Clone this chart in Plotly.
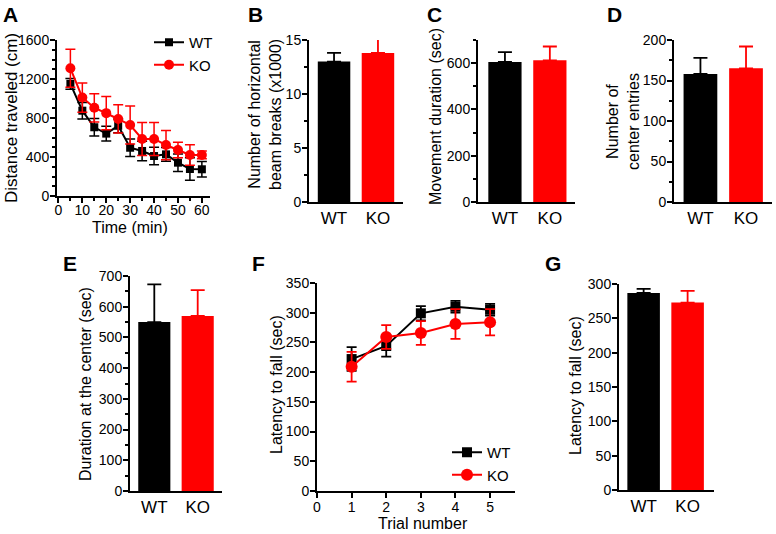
import plotly.graph_objects as go

W, H = 776, 534

# ---------------- data ----------------
time_min = [5, 10, 15, 20, 25, 30, 35, 40, 45, 50, 55, 60]
a_wt = [1150, 875, 705, 640, 720, 495, 462, 410, 427, 342, 277, 274]
a_wt_err = [55, 85, 90, 75, 70, 90, 100, 90, 70, 90, 115, 80]
a_ko = [1310, 1010, 905, 850, 790, 728, 585, 585, 523, 472, 421, 421]
a_ko_err = [195, 150, 145, 170, 145, 195, 170, 170, 150, 80, 105, 40]

groups = ["WT", "KO"]
b_vals = [13.0, 13.8]
b_err = [0.8, 1.3]
c_vals = [605, 612]
c_err = [43, 60]
d_vals = [158, 165]
d_err = [20, 27]
e_vals = [550, 570]
e_err = [123, 84]

trial = [1, 2, 3, 4, 5]
f_wt = [222, 244, 299, 310, 305]
f_wt_err = [20, 18, 12, 10, 10]
f_ko = [209, 259, 266, 281, 284]
f_ko_err = [25, 20, 20, 25, 22]

g_vals = [287, 273]
g_err = [6, 17]

BLACK = "#000000"
RED = "#ff0000"
FONT = "Liberation Sans, Arial, sans-serif"


def xd(px):
    return px / W


def yd(py):
    return 1 - py / H


fig = go.Figure()

# ---------- Panel A ----------
fig.add_trace(go.Scatter(
    x=time_min, y=a_wt, mode="lines+markers", name="WT",
    line=dict(color=BLACK, width=2),
    marker=dict(symbol="square", size=8, color=BLACK),
    error_y=dict(type="data", array=a_wt_err, color=BLACK, thickness=1.5, width=5),
    xaxis="x", yaxis="y", legend="legend"))
fig.add_trace(go.Scatter(
    x=time_min, y=a_ko, mode="lines+markers", name="KO",
    line=dict(color=RED, width=2),
    marker=dict(symbol="circle", size=10, color=RED),
    error_y=dict(type="data", array=a_ko_err, color=RED, thickness=1.5, width=5),
    xaxis="x", yaxis="y", legend="legend"))


def bars(vals, errs, xa, ya):
    for i, g in enumerate(groups):
        col = BLACK if i == 0 else RED
        fig.add_trace(go.Bar(
            x=[g], y=[vals[i]], marker=dict(color=col, line=dict(width=0)),
            width=0.74, showlegend=False,
            error_y=dict(type="data", array=[errs[i]], arrayminus=[0],
                         symmetric=False, color=col, thickness=1.8, width=7),
            xaxis=xa, yaxis=ya))


bars(b_vals, b_err, "x2", "y2")
bars(c_vals, c_err, "x3", "y3")
bars(d_vals, d_err, "x4", "y4")
bars(e_vals, e_err, "x5", "y5")

# ---------- Panel F ----------
fig.add_trace(go.Scatter(
    x=trial, y=f_wt, mode="lines+markers", name="WT",
    line=dict(color=BLACK, width=2),
    marker=dict(symbol="square", size=10, color=BLACK),
    error_y=dict(type="data", array=f_wt_err, color=BLACK, thickness=1.8, width=5),
    xaxis="x6", yaxis="y6", legend="legend2"))
fig.add_trace(go.Scatter(
    x=trial, y=f_ko, mode="lines+markers", name="KO",
    line=dict(color=RED, width=2),
    marker=dict(symbol="circle", size=12, color=RED),
    error_y=dict(type="data", array=f_ko_err, color=RED, thickness=1.8, width=5),
    xaxis="x6", yaxis="y6", legend="legend2"))

bars(g_vals, g_err, "x7", "y7")

axcommon = dict(showline=True, linecolor=BLACK, linewidth=2, showgrid=False,
                zeroline=False, ticks="outside", ticklen=5, tickwidth=2,
                tickcolor=BLACK, automargin=False,
                tickfont=dict(family=FONT, size=14, color=BLACK))
yax = dict(axcommon, ticklabelstandoff=-2)
catx = dict(showline=True, linecolor=BLACK, linewidth=2, showgrid=False,
            zeroline=False, ticks="", automargin=False,
            tickfont=dict(family=FONT, size=17, color=BLACK),
            type="category")
minor_t = dict(ticks="outside", ticklen=3, tickwidth=1.5, tickcolor=BLACK)

layout = dict(
    template="none",
    width=W, height=H, margin=dict(l=0, r=0, t=0, b=0, pad=0, autoexpand=False),
    paper_bgcolor="white", plot_bgcolor="white",
    font=dict(family=FONT, color=BLACK),
    bargap=0.2,
)

# A
layout["xaxis"] = dict(axcommon, domain=[xd(57), xd(210)], range=[-0.6, 63.4],
                       anchor="y", tickvals=[0, 10, 20, 30, 40, 50, 60],
                       ticklabelstandoff=-5,
                       minor=dict(minor_t, tickvals=[5, 15, 25, 35, 45, 55]))
layout["yaxis"] = dict(yax, domain=[yd(196), yd(40)], range=[0, 1600],
                       anchor="x", dtick=400, minor=dict(minor_t, dtick=100))
# B
layout["xaxis2"] = dict(catx, domain=[xd(309), xd(403)], range=[-0.57, 1.57], anchor="y2")
layout["yaxis2"] = dict(yax, domain=[yd(202), yd(40)], range=[0, 15], dtick=5,
                        anchor="x2", minor=dict(minor_t, dtick=2.5))
# C
layout["xaxis3"] = dict(catx, domain=[xd(478), xd(575)], range=[-0.6, 1.56], anchor="y3")
layout["yaxis3"] = dict(yax, domain=[yd(202), yd(40)], range=[0, 700], dtick=200,
                        anchor="x3", minor=dict(minor_t, dtick=100))
# D
layout["xaxis4"] = dict(catx, domain=[xd(674), xd(772)], range=[-0.58, 1.57], anchor="y4")
layout["yaxis4"] = dict(yax, domain=[yd(202), yd(40)], range=[0, 200], dtick=50,
                        anchor="x4", minor=dict(minor_t, dtick=25))
# E
layout["xaxis5"] = dict(catx, domain=[xd(130), xd(222)], range=[-0.56, 1.56], anchor="y5")
layout["yaxis5"] = dict(yax, domain=[yd(491), yd(276)], range=[0, 700], dtick=100,
                        anchor="x5", minor=dict(minor_t, dtick=50))
# F
layout["xaxis6"] = dict(axcommon, domain=[xd(317), xd(515)], range=[0, 5.72], dtick=1,
                        tick0=0, anchor="y6", ticklabelstandoff=-3)
layout["yaxis6"] = dict(yax, domain=[yd(491), yd(283)], range=[0, 350], dtick=50,
                        anchor="x6")
# G
layout["xaxis7"] = dict(catx, domain=[xd(619), xd(714)], range=[-0.56, 1.6], anchor="y7")
layout["yaxis7"] = dict(yax, domain=[yd(490), yd(284)], range=[0, 300], dtick=50,
                        anchor="x7")

layout["legend"] = dict(x=xd(149), y=yd(26), xanchor="left", yanchor="top",
                        bgcolor="rgba(0,0,0,0)", font=dict(family=FONT, size=15, color=BLACK),
                        itemwidth=30, tracegroupgap=0)
layout["legend2"] = dict(x=xd(447), y=yd(436), xanchor="left", yanchor="top",
                         bgcolor="rgba(0,0,0,0)", font=dict(family=FONT, size=15, color=BLACK),
                         itemwidth=30, tracegroupgap=0)

fig.update_layout(**layout)

ann = []


def letter(t, px, py):
    ann.append(dict(text="<b>%s</b>" % t, x=xd(px), y=yd(py), xref="paper", yref="paper",
                    showarrow=False, xanchor="center", yanchor="middle",
                    font=dict(family=FONT, size=21, color=BLACK)))


def vtitle(t, px, py, size=16):
    ann.append(dict(text=t, x=xd(px), y=yd(py), xref="paper", yref="paper",
                    showarrow=False, textangle=-90, xanchor="center", yanchor="middle",
                    font=dict(family=FONT, size=size, color=BLACK)))


def htitle(t, px, py, size=16):
    ann.append(dict(text=t, x=xd(px), y=yd(py), xref="paper", yref="paper",
                    showarrow=False, xanchor="center", yanchor="middle",
                    font=dict(family=FONT, size=size, color=BLACK)))


letter("A", 10, 15)
letter("B", 255, 15)
letter("C", 434, 15)
letter("D", 614, 15)
letter("E", 70, 263)
letter("F", 258, 263)
letter("G", 553, 263)

vtitle("Distance traveled (cm)", 12, 118, 17)
htitle("Time (min)", 130, 227)
vtitle("Number of horizontal<br>beam breaks (x1000)", 265, 115)
vtitle("Movement duration (sec)", 436, 117)
vtitle("Number of<br>center entries", 623, 122)
vtitle("Duration at the center (sec)", 85, 384)
vtitle("Latency to fall (sec)", 276, 385)
htitle("Trial number", 423, 523)
vtitle("Latency to fall (sec)", 575, 386)

fig.update_layout(annotations=ann)

fig.write_html("out.html", config={"displayModeBar": False},
               post_script="document.body.style.margin='0';document.body.style.overflow='hidden';")
